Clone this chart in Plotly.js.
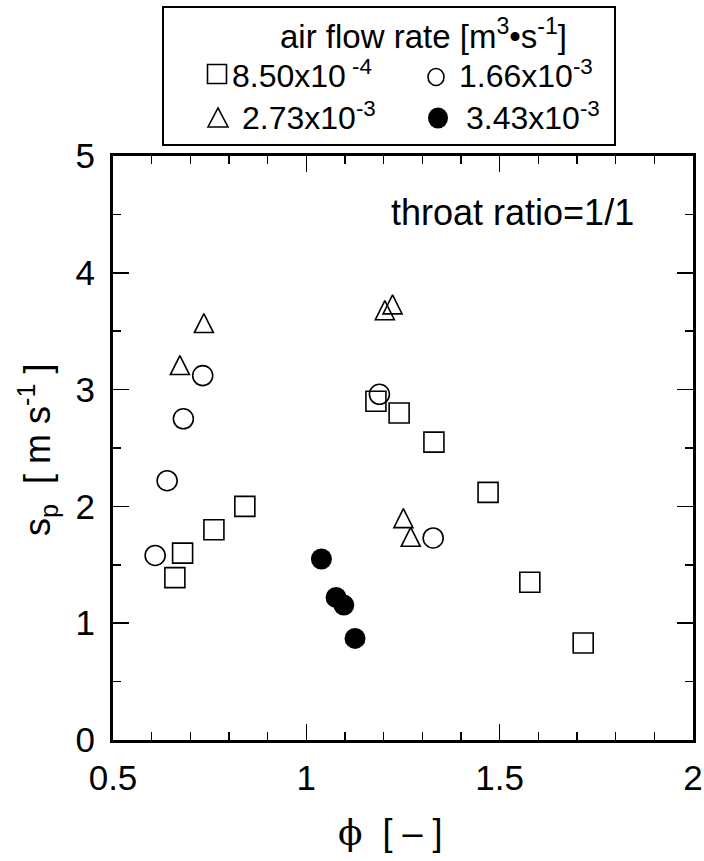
<!DOCTYPE html>
<html>
<head>
<meta charset="utf-8">
<script src="https://cdn.plot.ly/plotly-3.0.1.min.js"></script>
<style>html,body{margin:0;padding:0;background:#fff;}#chart{width:704px;height:861px;}</style>
</head>
<body>
<div id="chart"></div>
<script>
// air flow rate 8.50x10^-4 m3/s (open squares)
const phiSq = [0.660, 0.680, 0.761, 0.841, 1.180, 1.240, 1.330, 1.470, 1.578, 1.716];
const spSq  = [1.39, 1.60, 1.80, 2.00, 2.90, 2.80, 2.55, 2.12, 1.35, 0.83];
// 1.66x10^-3 (open circles)
const phiCi = [0.609, 0.640, 0.682, 0.732, 1.189, 1.328];
const spCi  = [1.58, 2.22, 2.75, 3.12, 2.96, 1.73];
// 2.73x10^-3 (open triangles)
const phiTr = [0.673, 0.735, 1.203, 1.223, 1.251, 1.270];
const spTr  = [3.21, 3.57, 3.68, 3.73, 1.90, 1.74];
// 3.43x10^-3 (filled circles)
const phiFc = [1.039, 1.077, 1.097, 1.126];
const spFc  = [1.55, 1.22, 1.155, 0.87];

const seriesNames = ['8.50x10<sup> -4</sup>', '1.66x10<sup>-3</sup>', '2.73x10<sup>-3</sup>', '3.43x10<sup>-3</sup>'];
const xTickVals = [0.5, 1, 1.5, 2];
const xTickText = ['0.5', '1', '1.5', '2'];
const yTickVals = [0, 1, 2, 3, 4, 5];
const yTickText = ['0', '1', '2', '3', '4', '5'];

const FONT = 'Liberation Sans, Arial, Helvetica, sans-serif';
const LW = 1.6;

const traces = [
  {x: phiSq, y: spSq, name: seriesNames[0], type: 'scatter', mode: 'markers',
   marker: {symbol: 'square-open', size: 20, color: '#000', line: {width: LW, color: '#000'}}},
  {x: phiCi, y: spCi, name: seriesNames[1], type: 'scatter', mode: 'markers',
   marker: {symbol: 'circle-open', size: 20, color: '#000', line: {width: LW, color: '#000'}}},
  {x: phiTr, y: spTr, name: seriesNames[2], type: 'scatter', mode: 'markers',
   marker: {symbol: 'arrow-down-open', angle: 180, standoff: 9.5, size: 19, color: '#000', line: {width: LW, color: '#000'}}},
  {x: phiFc, y: spFc, name: seriesNames[3], type: 'scatter', mode: 'markers',
   marker: {symbol: 'circle', size: 21, color: '#000', line: {width: 0}}}
];

const axisCommon = {
  showgrid: false, zeroline: false, showline: true, linecolor: '#000', linewidth: 3,
  mirror: 'allticks', ticks: 'inside', ticklen: 16, tickwidth: 1.6, tickcolor: '#000',
  tickfont: {family: FONT, size: 35, color: '#000'}
};

const L = 113, R = 693, T = 156, B = 740;
const px = v => (v - L) / (R - L);
const py = v => (B - v) / (B - T);

const legendFont = {family: FONT, size: 32, color: '#000'};

const layout = {
  width: 704, height: 861,
  margin: {l: L, r: 704 - R, t: T, b: 861 - B},
  paper_bgcolor: '#fff', plot_bgcolor: '#fff',
  showlegend: false,
  font: {family: FONT, color: '#000'},
  xaxis: Object.assign({}, axisCommon, {
    range: [0.5, 2], tickmode: 'array', tickvals: xTickVals, ticktext: xTickText,
    ticklabelstandoff: 5,
    minor: {ticks: 'inside', dtick: 0.1, tick0: 0.5, ticklen: 8, tickwidth: 1.6, tickcolor: '#000', showgrid: false}
  }),
  yaxis: Object.assign({}, axisCommon, {
    range: [0, 5], tickmode: 'array', tickvals: yTickVals, ticktext: yTickText,
    ticklabelstandoff: 8,
    minor: {ticks: 'inside', dtick: 0.5, tick0: 0, ticklen: 8, tickwidth: 1.6, tickcolor: '#000', showgrid: false}
  }),
  shapes: [
    // legend frame
    {type: 'rect', xref: 'paper', yref: 'paper', x0: px(163), x1: px(615), y0: py(145), y1: py(7),
     line: {color: '#000', width: 2}, fillcolor: 'rgba(0,0,0,0)'},
    // legend keys
    {type: 'rect', xref: 'paper', yref: 'paper', xsizemode: 'pixel', ysizemode: 'pixel',
     xanchor: px(217), yanchor: py(74), x0: -9.5, x1: 9.5, y0: -9.5, y1: 9.5,
     line: {color: '#000', width: LW}},
    {type: 'circle', xref: 'paper', yref: 'paper', xsizemode: 'pixel', ysizemode: 'pixel',
     xanchor: px(436), yanchor: py(77), x0: -8, x1: 8, y0: -8.5, y1: 8.5,
     line: {color: '#000', width: LW}},
    {type: 'path', xref: 'paper', yref: 'paper', xsizemode: 'pixel', ysizemode: 'pixel',
     xanchor: px(218), yanchor: py(118), path: 'M-10,-9 L10,-9 L0,10 Z',
     line: {color: '#000', width: LW}},
    {type: 'circle', xref: 'paper', yref: 'paper', xsizemode: 'pixel', ysizemode: 'pixel',
     xanchor: px(438), yanchor: py(118), x0: -10, x1: 10, y0: -10.5, y1: 10.5,
     line: {color: '#000', width: 0}, fillcolor: '#000'}
  ],
  annotations: [
    {text: 'air flow rate [m<sup>3</sup>•s<sup>-1</sup>]', xref: 'paper', yref: 'paper',
     x: px(423), y: py(34), xanchor: 'center', yanchor: 'middle', showarrow: false,
     font: {family: FONT, size: 33, color: '#000'}},
    {text: seriesNames[0], xref: 'paper', yref: 'paper', x: px(230), y: py(74),
     xanchor: 'left', yanchor: 'middle', showarrow: false, font: legendFont},
    {text: seriesNames[1], xref: 'paper', yref: 'paper', x: px(457), y: py(74),
     xanchor: 'left', yanchor: 'middle', showarrow: false, font: legendFont},
    {text: seriesNames[2], xref: 'paper', yref: 'paper', x: px(240), y: py(116),
     xanchor: 'left', yanchor: 'middle', showarrow: false, font: legendFont},
    {text: seriesNames[3], xref: 'paper', yref: 'paper', x: px(464), y: py(116),
     xanchor: 'left', yanchor: 'middle', showarrow: false, font: legendFont},
    {text: 'throat ratio=1/1', xref: 'paper', yref: 'paper', x: px(512), y: py(212),
     xanchor: 'center', yanchor: 'middle', showarrow: false, font: {family: FONT, size: 36, color: '#000'}},
    {text: 's<sub>p</sub>  [ m s<sup>-1</sup> ]', xref: 'paper', yref: 'paper', x: px(37), y: py(450),
     xanchor: 'center', yanchor: 'middle', textangle: -90, showarrow: false, font: {family: FONT, size: 36, color: '#000'}},
    {text: '<span style="font-family:\'DejaVu Serif\'">ϕ</span>  [ – ]', xref: 'paper', yref: 'paper', x: px(390), y: py(832),
     xanchor: 'center', yanchor: 'middle', showarrow: false, font: {family: FONT, size: 36, color: '#000'}}
  ]
};

Plotly.newPlot('chart', traces, layout, {displayModeBar: false, staticPlot: true});
</script>
</body>
</html>
